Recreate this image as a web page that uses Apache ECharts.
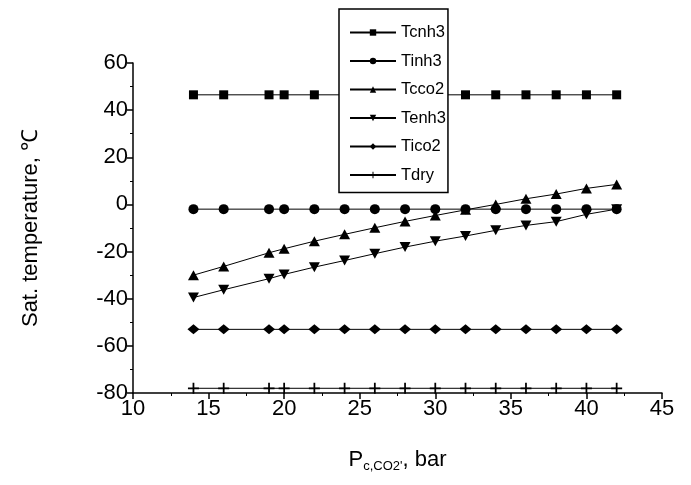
<!DOCTYPE html>
<html>
<head>
    <meta charset="utf-8">
    <title></title>
    <script src="https://cdn.jsdelivr.net/npm/echarts@6/dist/echarts.min.js"></script>
</head>
<body style="margin:0;background:#fff;">
<div id="main" style="width:691px;height:485px;"></div>
<script type="text/javascript">
    // 冷凝压力 (bar)
    var pressure = [14, 16, 19, 20, 22, 24, 26, 28, 30, 32, 34, 36, 38, 40, 42];

    var names = ['Tcnh3', 'Tinh3', 'Tcco2', 'Tenh3', 'Tico2', 'Tdry'];
    var Tcnh3 = [46.5, 46.5, 46.5, 46.5, 46.5, 46.5, 46.5, 46.5, 46.5, 46.5, 46.5, 46.5, 46.5, 46.5, 46.5];
    var Tinh3 = [-2, -2, -2, -2, -2, -2, -2, -2, -2, -2, -2, -2, -2, -2, -2];
    var Tcco2 = [-30, -26.3, -20.5, -18.8, -15.6, -12.7, -9.9, -7.2, -4.7, -2.3, 0, 2.4, 4.4, 6.8, 8.5];
    var Tenh3 = [-39.5, -36.2, -31.5, -29.7, -26.6, -23.8, -20.9, -18.1, -15.6, -13.4, -11, -8.9, -7.3, -4.2, -2];
    var Tico2 = [-53, -53, -53, -53, -53, -53, -53, -53, -53, -53, -53, -53, -53, -53, -53];
    var Tdry  = [-78, -78, -78, -78, -78, -78, -78, -78, -78, -78, -78, -78, -78, -78, -78];

    var xTicks = [10, 15, 20, 25, 30, 35, 40, 45];
    var yTicks = [-80, -60, -40, -20, 0, 20, 40, 60];

    var values = [Tcnh3, Tinh3, Tcco2, Tenh3, Tico2, Tdry];
    var symbols = [
        'rect',
        'circle',
        'triangle',
        'path://M0,0L10,0L5,9Z',
        'diamond',
        'path://M4.2,0H5.8V4.2H10V5.8H5.8V10H4.2V5.8H0V4.2H4.2Z'
    ];
    var sizes = [[9, 9], 10, [11, 10], [11, 10], [12, 10], [11, 11]];

    function pairs(v) {
        var out = [];
        for (var i = 0; i < pressure.length; i++) {
            out.push([pressure[i], v[i]]);
        }
        return out;
    }

    var charts = echarts.init(document.getElementById('main'));

    var series = [];
    for (var k = 0; k < names.length; k++) {
        series.push({
            name: names[k],
            type: 'line',
            data: pairs(values[k]),
            symbol: symbols[k],
            symbolSize: sizes[k],
            showAllSymbol: true,
            lineStyle: {color: '#000', width: 1},
            itemStyle: {color: '#000', borderWidth: 0},
            animation: false
        });
    }

    var font = 'Liberation Sans, Arial, sans-serif';

    var option = {
        backgroundColor: '#fff',
        animation: false,
        grid: {left: 133, right: 29, top: 63, bottom: 92},
        legend: {
            orient: 'vertical',
            left: 339,
            top: 9,
            padding: [15, 2, 9, 10],
            itemGap: 11.5,
            itemWidth: 46,
            itemHeight: 8,
            backgroundColor: '#fff',
            borderColor: '#000',
            borderWidth: 1.5,
            borderRadius: 0,
            textStyle: {color: '#000', fontSize: 16.5, lineHeight: 16, fontFamily: font},
            data: names
        },
        xAxis: {
            type: 'value',
            min: 10,
            max: 45,
            interval: 5,
            name: '{p|P}{s|c,CO2\'}{p|, bar}',
            nameLocation: 'middle',
            nameGap: 53,
            nameTextStyle: {
                rich: {
                    p: {fontSize: 22, fontFamily: font, color: '#000'},
                    s: {fontSize: 13, fontFamily: font, color: '#000', padding: [14, 0, 0, 0]}
                }
            },
            axisLine: {onZero: false, lineStyle: {color: '#000', width: 1.5}},
            axisTick: {length: 6, lineStyle: {color: '#000', width: 1.5}},
            minorTick: {show: true, splitNumber: 2, length: 3, lineStyle: {color: '#000'}},
            splitLine: {show: false},
            axisLabel: {
                color: '#000', fontSize: 22, fontFamily: font, margin: 5,
                formatter: function (v) { return xTicks.indexOf(v) >= 0 ? String(v) : ''; }
            }
        },
        yAxis: {
            type: 'value',
            min: -80,
            max: 60,
            interval: 20,
            name: 'Sat. temperature, ℃',
            nameLocation: 'middle',
            nameGap: 91,
            nameTextStyle: {fontSize: 22, fontFamily: font, color: '#000'},
            axisLine: {show: true, onZero: false, lineStyle: {color: '#000', width: 1.5}},
            axisTick: {show: true, length: 6, lineStyle: {color: '#000', width: 1.5}},
            minorTick: {show: true, splitNumber: 2, length: 3, lineStyle: {color: '#000'}},
            splitLine: {show: false},
            axisLabel: {
                color: '#000', fontSize: 22, fontFamily: font, margin: 5,
                formatter: function (v) { return yTicks.indexOf(v) >= 0 ? String(v) : ''; }
            }
        },
        series: series
    };

    charts.setOption(option);
</script>
</body>
</html>
